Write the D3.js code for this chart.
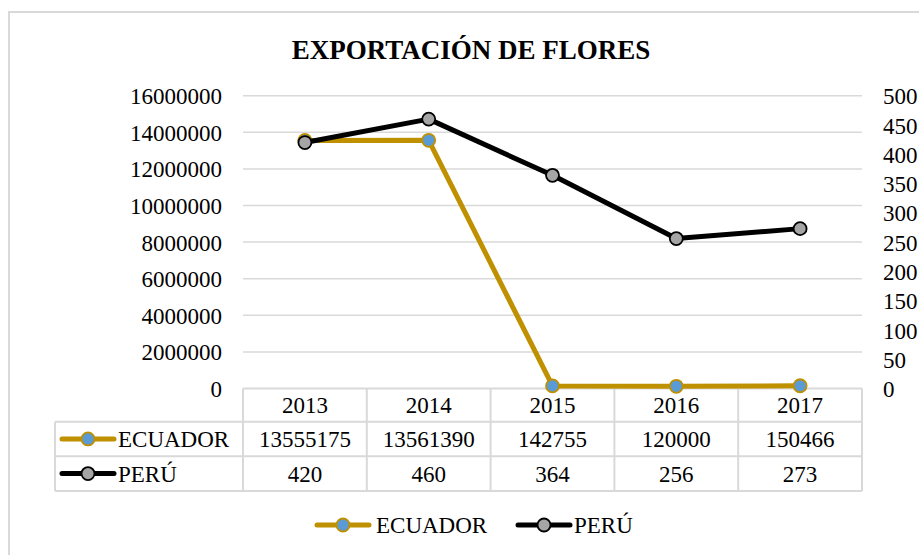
<!DOCTYPE html>
<html><head><meta charset="utf-8">
<script src="https://cdn.jsdelivr.net/npm/d3@7"></script>
<style>body{margin:0;background:#fff}svg{display:block}text{font-family:"Liberation Serif","Times New Roman",serif;fill:#000}</style>
</head><body><svg id="c" width="919" height="555"></svg>
<script>
const years = ["2013","2014","2015","2016","2017"];
const ecuador = [13555175,13561390,142755,120000,150466];
const peru = [420,460,364,256,273];
const leftTicks = [0,2000000,4000000,6000000,8000000,10000000,12000000,14000000,16000000];
const rightTicks = [0,50,100,150,200,250,300,350,400,450,500];
const title = "EXPORTACIÓN DE FLORES";
const seriesNames = ["ECUADOR","PERÚ"];

const svg = d3.select("#c");
const W=919,H=555;
const plot = {l:243,r:862,t:95.7,b:388.5};
const gold="#BF9000", blue="#5B9BD5", gray="#A5A5A5", grid="#D9D9D9";
const fs=23;

svg.append("rect").attr("x",9).attr("y",12).attr("width",W).attr("height",H).attr("fill","#fff").attr("stroke",grid).attr("stroke-width",2);

svg.append("text").attr("x",471).attr("y",59).attr("text-anchor","middle").style("font-weight","bold").style("font-size","27px").text(title);

const x = d3.scaleBand().domain(years).range([plot.l,plot.r]);
const yL = d3.scaleLinear().domain([0,16000000]).range([plot.b,plot.t]);
const yR = d3.scaleLinear().domain([0,500]).range([plot.b,plot.t]);

// gridlines
svg.append("g").selectAll("line").data(leftTicks.slice(1)).join("line")
  .attr("x1",plot.l).attr("x2",plot.r).attr("y1",d=>yL(d)).attr("y2",d=>yL(d))
  .attr("stroke",grid).attr("stroke-width",1.5);

// left axis
const gL = svg.append("g").attr("transform",`translate(${plot.l-21},0)`)
  .call(d3.axisLeft(yL).tickValues(leftTicks).tickFormat(d3.format("d")).tickSize(0).tickPadding(0));
gL.select(".domain").remove();
gL.selectAll("text").style("font-size",fs+"px").style("font-family","Liberation Serif").attr("dy","0.35em");

// right axis
const gR = svg.append("g").attr("transform",`translate(${plot.r+21},0)`)
  .call(d3.axisRight(yR).tickValues(rightTicks).tickFormat(d3.format("d")).tickSize(0).tickPadding(0));
gR.select(".domain").remove();
gR.selectAll("text").style("font-size",fs+"px").style("font-family","Liberation Serif").attr("dy","0.35em");

// table
const rowTop = [plot.b, 421.7, 456.2, 491];
const tableLeft = 55;
const tg = svg.append("g");
const cols = [plot.l, ...years.map(y=>x(y)+x.bandwidth())];
// horizontal lines
tg.append("line").attr("x1",plot.l).attr("x2",plot.r).attr("y1",rowTop[0]).attr("y2",rowTop[0]).attr("stroke",grid).attr("stroke-width",2);
[1,2,3].forEach(i=>tg.append("line").attr("x1",tableLeft).attr("x2",plot.r).attr("y1",rowTop[i]).attr("y2",rowTop[i]).attr("stroke",grid).attr("stroke-width",2));
cols.forEach(c=>tg.append("line").attr("x1",c).attr("x2",c).attr("y1",rowTop[0]).attr("y2",rowTop[3]).attr("stroke",grid).attr("stroke-width",2));
tg.append("line").attr("x1",tableLeft).attr("x2",tableLeft).attr("y1",rowTop[1]).attr("y2",rowTop[3]).attr("stroke",grid).attr("stroke-width",2);

const rowMid = i=>(rowTop[i]+rowTop[i+1])/2;
tg.selectAll("text.yr").data(years).join("text").attr("class","yr")
  .attr("x",d=>x(d)+x.bandwidth()/2).attr("y",rowMid(0)).attr("dy","0.35em").attr("text-anchor","middle").style("font-size",fs+"px").text(d=>d);
[ecuador,peru].forEach((arr,i)=>{
  tg.selectAll("text.v"+i).data(arr).join("text").attr("class","v"+i)
    .attr("x",(d,j)=>x(years[j])+x.bandwidth()/2).attr("y",rowMid(i+1)).attr("dy","0.35em").attr("text-anchor","middle").style("font-size",fs+"px").text(d=>d);
});

function key(g,cx,cy,color,fill){
  g.append("line").attr("x1",cx-26).attr("x2",cx+26).attr("y1",cy).attr("y2",cy).attr("stroke",color).attr("stroke-width",5).attr("stroke-linecap","round");
  g.append("circle").attr("cx",cx).attr("cy",cy).attr("r",6.5).attr("fill",fill).attr("stroke",color).attr("stroke-width",1.8);
}
key(tg,88,rowMid(1),gold,blue);
key(tg,88,rowMid(2),"#000",gray);
tg.append("text").attr("x",118).attr("y",rowMid(1)).attr("dy","0.35em").style("font-size",fs+"px").text(seriesNames[0]);
tg.append("text").attr("x",118).attr("y",rowMid(2)).attr("dy","0.35em").style("font-size",fs+"px").text(seriesNames[1]);

// lines
const cx = d=>x(d)+x.bandwidth()/2;
const lineE = d3.line().x((d,i)=>cx(years[i])).y(d=>yL(d));
const lineP = d3.line().x((d,i)=>cx(years[i])).y(d=>yR(d));
svg.append("path").attr("d",lineE(ecuador)).attr("fill","none").attr("stroke",gold).attr("stroke-width",5).attr("stroke-linejoin","round");
svg.selectAll("circle.e").data(ecuador).join("circle").attr("class","e")
  .attr("cx",(d,i)=>cx(years[i])).attr("cy",d=>yL(d)).attr("r",6.5).attr("fill",blue).attr("stroke",gold).attr("stroke-width",1.8);
svg.append("path").attr("d",lineP(peru)).attr("fill","none").attr("stroke","#000").attr("stroke-width",5).attr("stroke-linejoin","round");
svg.selectAll("circle.p").data(peru).join("circle").attr("class","p")
  .attr("cx",(d,i)=>cx(years[i])).attr("cy",d=>yR(d)).attr("r",6.5).attr("fill",gray).attr("stroke","#000").attr("stroke-width",1.8);

// legend
const lg = svg.append("g");
key(lg,343,525,gold,blue);
lg.append("text").attr("x",376).attr("y",525).attr("dy","0.35em").style("font-size",fs+"px").text(seriesNames[0]);
key(lg,544,525,"#000",gray);
lg.append("text").attr("x",574).attr("y",525).attr("dy","0.35em").style("font-size",fs+"px").text(seriesNames[1]);
</script></body></html>
